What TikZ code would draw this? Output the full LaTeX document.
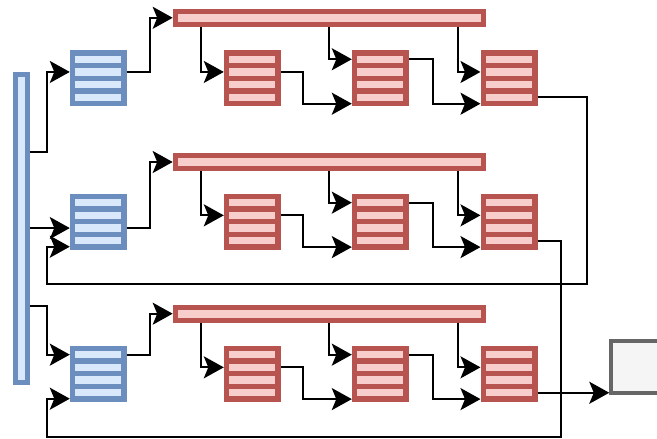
\documentclass[tikz,border=0pt]{standalone}
\usetikzlibrary{arrows.meta}
\definecolor{bluestroke}{HTML}{6C8EBF}
\definecolor{bluefill}{HTML}{DAE8FC}
\definecolor{redstroke}{HTML}{B85450}
\definecolor{redfill}{HTML}{F8CECC}
\definecolor{graystroke}{HTML}{666666}
\definecolor{grayfill}{HTML}{F5F5F5}
\tikzset{
  conn/.style={line width=2pt, -{Stealth[length=20pt,width=22pt,inset=4.5pt]}},
  stack/.style 2 args={rectangle, inner sep=0pt, outer sep=0pt,
    minimum width=57pt, minimum height=56.3pt, fill=#1,
    path picture={\foreach \k in {0,1,2,3}{
      \fill[#2] ([shift={(5.5pt,{-5.5pt-12.7pt*\k})}]path picture bounding box.north west)
        rectangle ++(46pt,-7.2pt);}}},
  bluestack/.style={stack={bluestroke}{bluefill}},
  redstack/.style={stack={redstroke}{redfill}},
  redbar/.style={rectangle, draw=redstroke, fill=redfill, line width=5pt,
    inner sep=0pt, minimum width=308pt, minimum height=13pt},
  srcbar/.style={rectangle, draw=bluestroke, fill=bluefill, line width=5pt,
    inner sep=0pt, minimum width=12pt, minimum height=308pt},
  sinkbox/.style={rectangle, draw=graystroke, fill=grayfill, line width=4pt,
    inner sep=0pt, minimum width=50pt, minimum height=52pt}
}
\begin{document}
\begin{tikzpicture}[x=1pt,y=-1pt]
\useasboundingbox (0,0) rectangle (657,439);

% input column
\node[srcbar] (src) at (21,228.3) {};

% three stages: blue stack, red bus bar, three red stacks
\foreach \n/\cy/\by in {1/78.3/17.8, 2/221.7/162, 3/373.7/313.7}{
  \node[bluestack] (b\n) at (98.3,\cy) {};
  \node[redbar] (bar\n) at (329.2,\by) {};
  \node[redstack] (r\n1) at (252.3,\cy) {};
  \node[redstack] (r\n2) at (380.3,\cy) {};
  \node[redstack] (r\n3) at (509,\cy) {};
}

% output box
\node[sinkbox] (out) at (636.3,367) {};

% input column to the blue stacks
\draw[conn] ([yshift=76.8pt]src.east) -- ++(17,0) |- ([yshift=6.35pt]b1.west);
\coordinate (e2) at ([yshift=-6.35pt]b2.west);
\draw[conn] (e2 -| src.east) -- (e2);
\draw[conn] ([yshift=-77.2pt]src.east) -- ++(17,0) |- ([yshift=19.05pt]b3.west);

% connections inside each stage
\foreach \n/\o in {1/6.35, 2/-6.35, 3/19.05}{
  \draw[conn] ([yshift=\o pt]b\n.east) -- ++(23.2,0) |- (bar\n.west);
  \draw[conn] ([xshift=-128.2pt]bar\n.south) |- ([yshift=6.35pt]r\n1.west);
  \draw[conn] (bar\n.south) |- ([yshift=19.05pt]r\n2.west);
  \draw[conn] ([xshift=128.8pt]bar\n.south) |- ([yshift=6.35pt]r\n3.west);
  \draw[conn] ([yshift=6.35pt]r\n1.east) -- ++(22.2,0) |- ([yshift=-25.4pt]r\n2.west);
  \draw[conn] ([yshift=19.05pt]r\n2.east) -- ++(23.8,0) |- ([yshift=-25.4pt]r\n3.west);
}

% feedback from one stage to the next
\draw[conn] ([yshift=-19.05pt]r13.east) -| (586.7,283.5) -- (46.5,283.5)
  |- ([yshift=-25pt]b2.west);
\draw[conn] ([yshift=-19.05pt]r23.east) -| (560.7,436.7) -- (46.5,436.7)
  |- ([yshift=-25pt]b3.west);

% final output
\coordinate (o3) at ([yshift=-19.05pt]r33.east);
\draw[conn] (o3) -- (o3 -| out.west);
\end{tikzpicture}
\end{document}
